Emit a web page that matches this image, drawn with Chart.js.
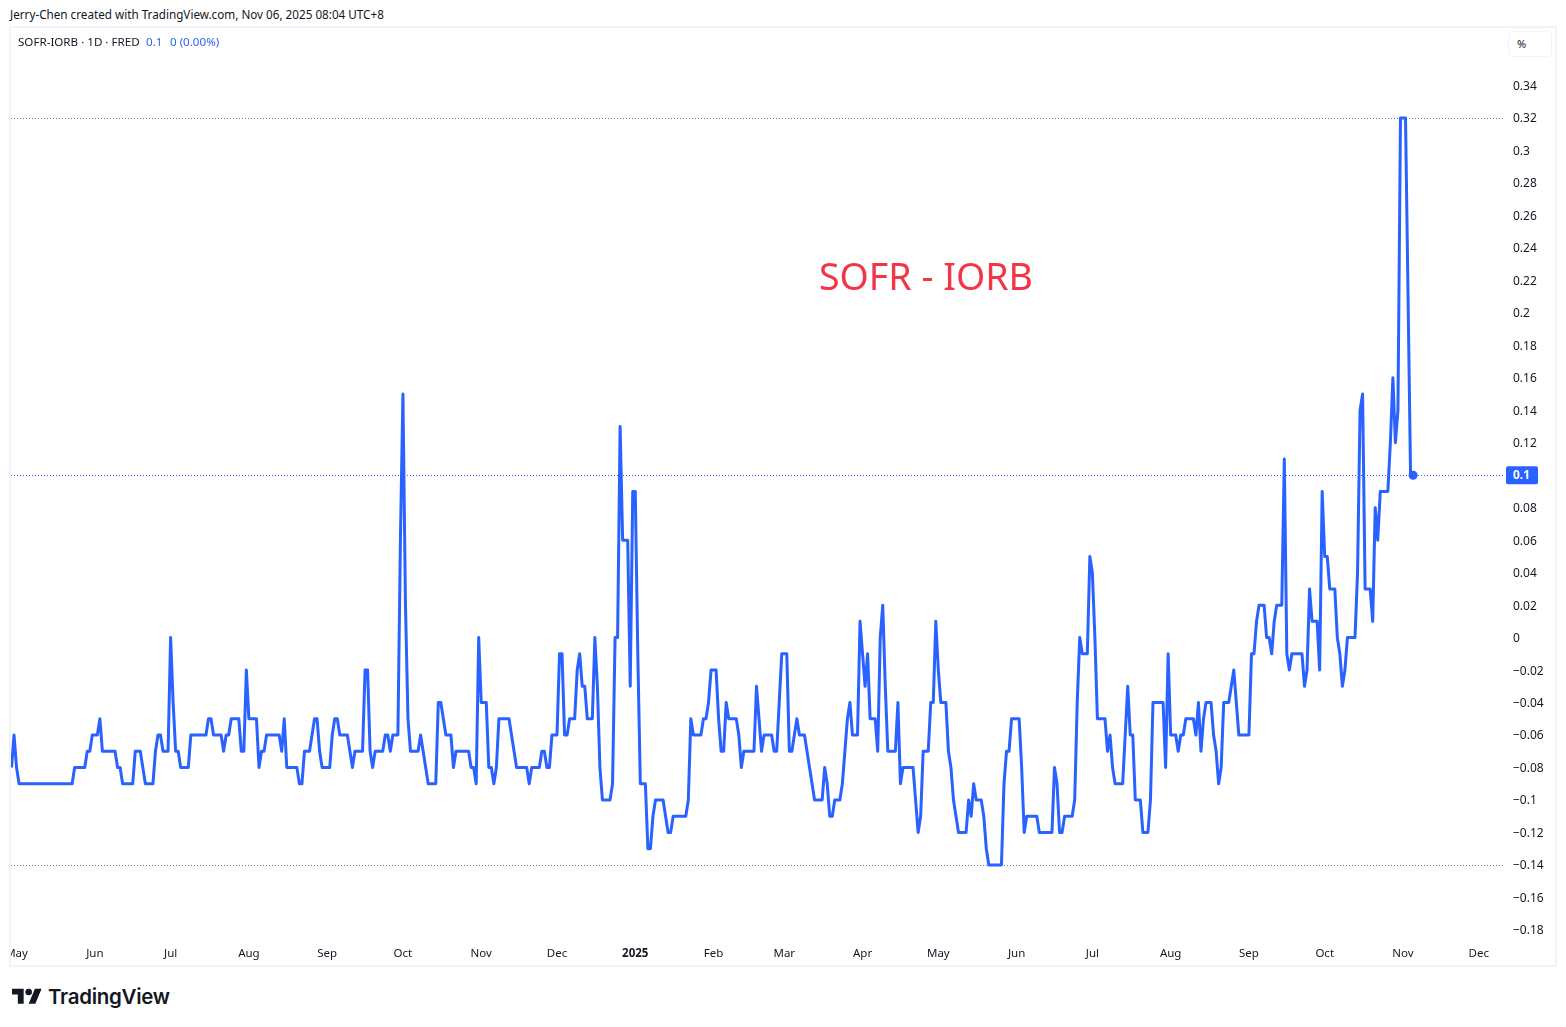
<!DOCTYPE html>
<html>
<head>
<meta charset="utf-8">
<title>SOFR-IORB</title>
<script src="https://cdn.jsdelivr.net/npm/chart.js@4/dist/chart.umd.min.js"></script>
<style>
  html, body { margin: 0; padding: 0; background: #fff; }
  body { width: 1566px; height: 1027px; position: relative; overflow: hidden; font-family: "Noto Sans", sans-serif; color: #131722; }
  .txt { position: absolute; white-space: pre; }
  #frame { position: absolute; left: 9px; top: 26px; width: 1548px; height: 941px; box-sizing: border-box; border: 2px solid #f0f3fa; overflow: hidden; }
  #chart { display: block; }
  #pct { position: absolute; left: 1508px; top: 31px; width: 44px; height: 26px; box-sizing: border-box; border: 1px solid #f0f3fa; border-radius: 4px; background: #fff; font-size: 11px; line-height: 24px; padding-left: 8px; }
</style>
</head>
<body>
<div class="txt" style="left:10px;top:6px;font-size:11.7px;">Jerry-Chen created with TradingView.com, Nov 06, 2025 08:04 UTC+8</div>
<div id="frame"><canvas id="chart" width="1544" height="937"></canvas></div>
<div class="txt" style="left:18px;top:34px;font-size:11.6px;">SOFR-IORB · 1D · FRED</div>
<div class="txt" style="left:146px;top:34px;font-size:11.6px;color:#2962ff;">0.1</div>
<div class="txt" style="left:170px;top:34px;font-size:11.6px;color:#2962ff;">0 (0.00%)</div>
<div id="pct">%</div>
<div class="txt" style="left:819px;top:250px;font-size:37.5px;line-height:52px;color:#f23645;">SOFR - IORB</div>
<svg style="position:absolute;left:12px;top:985px;" width="30" height="24" viewBox="0 0 36 28" fill="#131722"><path d="M14 22H7V11H0V4h14v18zM28 22h-8l7.5-18h8L28 22z"/><circle cx="20" cy="8" r="4"/></svg>
<div class="txt" style="left:48px;top:982px;font-family:Inter,sans-serif;font-size:20.5px;line-height:30px;font-weight:600;letter-spacing:-0.3px;">TradingView</div>

<script>
// days since 2024-05-01, only the turning points of the line are listed
const days = [
  -2, -1, 0, 1, 22, 23, 27, 28, 29, 30, 32, 33, 34, 39, 40, 41, 42, 46, 47, 49,
  50, 51, 54, 55, 56, 57, 58, 60, 61, 62, 63, 64, 65, 68, 69, 75, 76, 77, 78, 81,
  82, 83, 84, 85, 88, 89, 90, 91, 92, 95, 96, 97, 98, 99, 104, 105, 106, 107, 111, 112,
  113, 114, 116, 117, 118, 119, 120, 121, 124, 125, 126, 127, 128, 131, 132, 133, 134, 137, 138, 139,
  140, 141, 142, 145, 146, 147, 148, 149, 151, 152, 153, 154, 155, 156, 159, 160, 161, 162, 163, 166,
  167, 168, 169, 170, 172, 173, 174, 179, 180, 181, 182, 183, 184, 186, 187, 188, 189, 190, 191, 195,
  196, 197, 198, 202, 203, 204, 207, 208, 209, 210, 211, 212, 214, 215, 216, 217, 218, 219, 221, 222,
  223, 224, 225, 226, 228, 229, 230, 231, 232, 235, 236, 237, 238, 239, 240, 242, 243, 244, 245, 246,
  247, 249, 250, 251, 252, 253, 256, 257, 258, 259, 260, 265, 266, 267, 268, 271, 272, 273, 274, 275,
  277, 278, 279, 280, 281, 282, 285, 286, 287, 288, 292, 293, 294, 295, 296, 299, 300, 301, 302, 303,
  305, 306, 307, 308, 309, 310, 312, 313, 314, 315, 316, 319, 320, 321, 322, 323, 324, 326, 327, 328,
  329, 330, 331, 333, 334, 335, 336, 337, 338, 340, 341, 342, 343, 344, 345, 348, 349, 350, 351, 355,
  356, 357, 358, 359, 361, 362, 363, 364, 365, 366, 368, 369, 370, 371, 372, 373, 376, 377, 378, 379,
  380, 382, 383, 384, 385, 390, 391, 392, 393, 394, 397, 398, 399, 400, 404, 405, 410, 411, 412, 413,
  414, 415, 418, 419, 420, 421, 422, 424, 425, 426, 427, 428, 431, 432, 433, 434, 435, 438, 439, 440,
  441, 442, 443, 445, 446, 448, 449, 450, 454, 455, 456, 457, 459, 460, 461, 462, 463, 466, 467, 468,
  469, 470, 471, 473, 474, 475, 476, 477, 478, 480, 481, 482, 483, 484, 488, 489, 490, 491, 492, 494,
  495, 496, 497, 498, 499, 501, 502, 503, 504, 505, 509, 510, 511, 512, 513, 515, 516, 517, 518, 519,
  520, 522, 523, 524, 525, 526, 527, 530, 531, 532, 533, 534, 536, 537, 538, 539, 540, 543, 544, 545,
  546, 547, 548, 550, 551, 552, 553
];
const spread = [
  -0.08, -0.06, -0.08, -0.09, -0.09, -0.08, -0.08, -0.07, -0.07, -0.06, -0.06, -0.05, -0.07, -0.07, -0.08, -0.08, -0.09, -0.09, -0.07, -0.07,
  -0.08, -0.09, -0.09, -0.07, -0.06, -0.06, -0.07, -0.07, 0, -0.04, -0.07, -0.07, -0.08, -0.08, -0.06, -0.06, -0.05, -0.05, -0.06, -0.06,
  -0.07, -0.06, -0.06, -0.05, -0.05, -0.07, -0.07, -0.02, -0.05, -0.05, -0.08, -0.07, -0.07, -0.06, -0.06, -0.07, -0.05, -0.08, -0.08, -0.09,
  -0.09, -0.07, -0.07, -0.06, -0.05, -0.05, -0.07, -0.08, -0.08, -0.06, -0.05, -0.05, -0.06, -0.06, -0.07, -0.08, -0.07, -0.07, -0.02, -0.02,
  -0.07, -0.08, -0.07, -0.07, -0.06, -0.06, -0.07, -0.06, -0.06, 0.06, 0.15, 0.02, -0.05, -0.07, -0.07, -0.06, -0.07, -0.08, -0.09, -0.09,
  -0.04, -0.04, -0.05, -0.06, -0.06, -0.08, -0.07, -0.07, -0.08, -0.08, -0.09, 0, -0.04, -0.04, -0.08, -0.08, -0.09, -0.08, -0.05, -0.05,
  -0.06, -0.07, -0.08, -0.08, -0.09, -0.08, -0.08, -0.07, -0.07, -0.08, -0.08, -0.06, -0.06, -0.01, -0.01, -0.06, -0.06, -0.05, -0.05, -0.02,
  -0.01, -0.03, -0.03, -0.05, -0.05, 0, -0.03, -0.08, -0.1, -0.1, -0.09, 0, 0, 0.13, 0.06, 0.06, -0.03, 0.09, 0.09, -0.01,
  -0.09, -0.09, -0.13, -0.13, -0.11, -0.1, -0.1, -0.11, -0.12, -0.12, -0.11, -0.11, -0.1, -0.05, -0.06, -0.06, -0.05, -0.05, -0.04, -0.02,
  -0.02, -0.05, -0.07, -0.07, -0.04, -0.05, -0.05, -0.06, -0.08, -0.07, -0.07, -0.03, -0.05, -0.07, -0.06, -0.06, -0.07, -0.07, -0.04, -0.01,
  -0.01, -0.07, -0.07, -0.06, -0.05, -0.06, -0.06, -0.07, -0.08, -0.09, -0.1, -0.1, -0.08, -0.09, -0.11, -0.11, -0.1, -0.1, -0.09, -0.07,
  -0.05, -0.04, -0.06, -0.06, 0.01, -0.01, -0.03, -0.01, -0.05, -0.05, -0.07, 0, 0.02, -0.03, -0.07, -0.07, -0.04, -0.09, -0.08, -0.08,
  -0.1, -0.12, -0.11, -0.07, -0.07, -0.04, -0.04, 0.01, -0.02, -0.04, -0.04, -0.07, -0.08, -0.1, -0.11, -0.12, -0.12, -0.1, -0.11, -0.09,
  -0.1, -0.1, -0.11, -0.13, -0.14, -0.14, -0.09, -0.07, -0.07, -0.05, -0.05, -0.08, -0.12, -0.11, -0.11, -0.12, -0.12, -0.08, -0.09, -0.12,
  -0.12, -0.11, -0.11, -0.1, -0.04, 0, -0.01, -0.01, 0.05, 0.04, 0, -0.05, -0.05, -0.07, -0.06, -0.08, -0.09, -0.09, -0.06, -0.03,
  -0.06, -0.06, -0.1, -0.1, -0.12, -0.12, -0.1, -0.04, -0.04, -0.08, -0.01, -0.06, -0.06, -0.07, -0.06, -0.06, -0.05, -0.05, -0.06, -0.04,
  -0.07, -0.05, -0.04, -0.04, -0.06, -0.07, -0.09, -0.08, -0.04, -0.04, -0.03, -0.02, -0.04, -0.06, -0.06, -0.01, -0.01, 0.01, 0.02, 0.02,
  0, 0, -0.01, 0.01, 0.02, 0.02, 0.11, -0.01, -0.02, -0.01, -0.01, -0.03, -0.02, 0.03, 0.01, 0.01, -0.02, 0.09, 0.05, 0.05,
  0.03, 0.03, 0, -0.01, -0.03, -0.02, 0, 0, 0.04, 0.14, 0.15, 0.03, 0.03, 0.01, 0.08, 0.06, 0.09, 0.09, 0.12, 0.16,
  0.12, 0.14, 0.32, 0.32, 0.21, 0.1, 0.1
];

const monthDays = [0, 31, 61, 92, 123, 153, 184, 214, 245, 276, 304, 335, 365, 396, 426, 457, 488, 518, 549, 579];
const monthLabels = ['May', 'Jun', 'Jul', 'Aug', 'Sep', 'Oct', 'Nov', 'Dec', '2025', 'Feb', 'Mar', 'Apr', 'May', 'Jun', 'Jul', 'Aug', 'Sep', 'Oct', 'Nov', 'Dec'];
const yTicks = [0.34, 0.32, 0.3, 0.28, 0.26, 0.24, 0.22, 0.2, 0.18, 0.16, 0.14, 0.12, 0.1, 0.08, 0.06, 0.04, 0.02, 0, -0.02, -0.04, -0.06, -0.08, -0.1, -0.12, -0.14, -0.16, -0.18];
const highLine = 0.32;
const lowLine = -0.14;
const lastValue = 0.1;

const BLUE = '#2962ff';
const FONT = '"Noto Sans", sans-serif';

// dotted high / low / last lines and the last value tag on the price axis
const priceLines = {
  id: 'priceLines',
  beforeDatasetsDraw(c) {
    const { ctx, chartArea, scales } = c;
    [[highLine, '#787b86'], [lowLine, '#787b86'], [lastValue, BLUE]].forEach(([v, color]) => {
      const y = Math.round(scales.y.getPixelForValue(v)) + 0.5;
      ctx.save();
      ctx.strokeStyle = color;
      ctx.lineWidth = 1;
      ctx.setLineDash([1, 2]);
      ctx.beginPath();
      ctx.moveTo(chartArea.left, y);
      ctx.lineTo(chartArea.right, y);
      ctx.stroke();
      ctx.restore();
    });
  },
  afterDraw(c) {
    const { ctx, chartArea, scales } = c;
    const y = scales.y.getPixelForValue(lastValue);
    ctx.save();
    ctx.fillStyle = BLUE;
    ctx.beginPath();
    ctx.roundRect(chartArea.right + 3, y - 9, 32, 18, 2);
    ctx.fill();
    ctx.fillStyle = '#fff';
    ctx.font = 'bold 12px ' + FONT;
    ctx.textBaseline = 'middle';
    ctx.fillText('0.1', chartArea.right + 10, y + 0.5);
    ctx.restore();
  }
};

new Chart(document.getElementById('chart'), {
  type: 'line',
  plugins: [priceLines],
  data: {
    datasets: [{
      data: days.map((d, i) => ({ x: d, y: spread[i] })),
      borderColor: BLUE,
      backgroundColor: BLUE,
      borderWidth: 3,
      borderJoinStyle: 'round',
      tension: 0,
      pointRadius: ctx => ctx.dataIndex === days.length - 1 ? 4.5 : 0,
      pointBorderWidth: 0
    }]
  },
  options: {
    responsive: false,
    animation: false,
    layout: { padding: 0, autoPadding: false },
    plugins: { legend: { display: false }, tooltip: { enabled: false } },
    scales: {
      x: {
        type: 'linear',
        min: -2.2,
        max: 588.6,
        grid: { display: false, drawTicks: false },
        border: { display: false },
        afterBuildTicks: s => { s.ticks = monthDays.map(v => ({ value: v })); },
        afterFit: s => { s.height = 27; s.paddingLeft = 0; s.paddingRight = 0; },
        ticks: {
          autoSkip: false,
          maxRotation: 0,
          padding: 9,
          color: '#131722',
          font: ctx => ({ family: FONT, size: 11.5, weight: ctx.tick && ctx.tick.value === 245 ? 'bold' : 'normal' }),
          callback: v => monthLabels[monthDays.indexOf(v)]
        }
      },
      y: {
        position: 'right',
        min: -0.18498,
        max: 0.3754,
        grid: { display: false, drawTicks: false },
        border: { display: false },
        afterBuildTicks: s => { s.ticks = yTicks.map(v => ({ value: v })); },
        afterFit: s => { s.width = 52; s.paddingTop = 0; s.paddingBottom = 0; },
        ticks: {
          autoSkip: false,
          padding: 10,
          labelOffset: 1,
          crossAlign: 'near',
          color: '#131722',
          font: { family: FONT, size: 12 },
          callback: v => String(v).replace('-', '\u2212')
        }
      }
    }
  }
});
</script>
</body>
</html>
